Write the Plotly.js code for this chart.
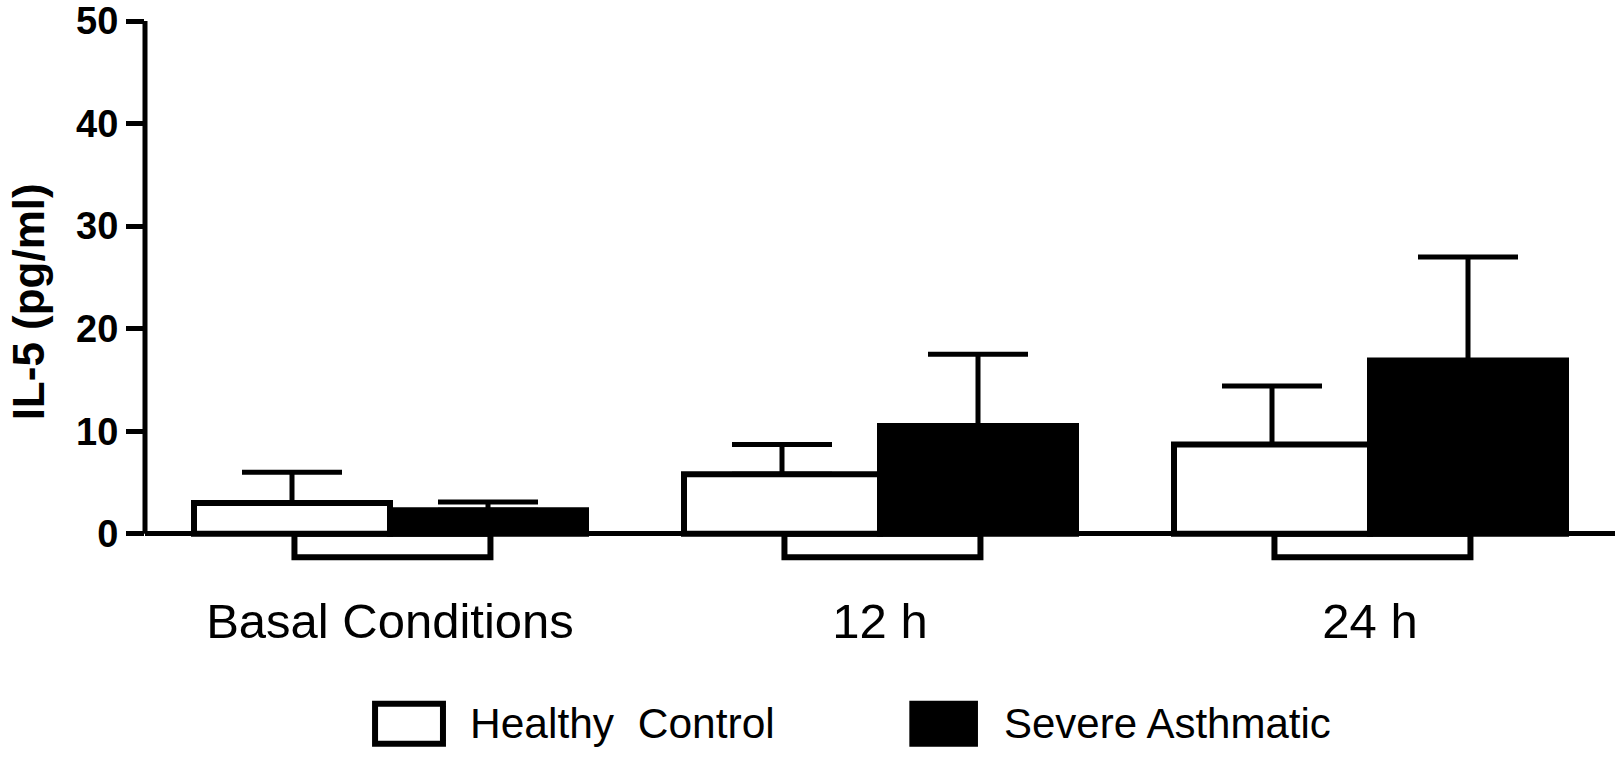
<!DOCTYPE html>
<html>
<head>
<meta charset="utf-8">
<script src="https://cdn.plot.ly/plotly-3.0.1.min.js"></script>
<style>html,body{margin:0;padding:0;background:#fff;}#chart{width:1624px;height:757px;}</style>
</head>
<body>
<div id="chart"></div>
<script>
// ---- data ----
const categories = ["Basal Conditions", "12 h", "24 h"];
const healthyMean = [3.0, 5.8, 8.7];
const healthySEM  = [3.0, 2.9, 5.7];
const asthmaMean  = [2.3, 10.5, 16.9];
const asthmaSEM   = [0.8, 7.0, 10.1];
const baselineBox = [-2.3, -2.3, -2.3];
const yTicks = [0, 10, 20, 30, 40, 50];
const seriesNames = ["Healthy  Control", "Severe Asthmatic"];

const idx = categories.map((c, i) => i);
const FONT = "Liberation Sans, Arial, Helvetica, sans-serif";

const traces = [
  {
    type: "bar", x: idx, y: baselineBox, width: 0.4, offset: -0.195,
    marker: {color: "#ffffff", line: {color: "#000", width: 6}},
    showlegend: false, hoverinfo: "skip"
  },
  {
    type: "bar", name: seriesNames[0], x: idx, y: healthyMean, width: 0.4, offset: -0.4,
    marker: {color: "#ffffff", line: {color: "#000", width: 6}},
    error_y: {type: "data", symmetric: false, array: healthySEM, arrayminus: healthySEM.map(() => 0),
              color: "#000", thickness: 5, width: 50},
    showlegend: false
  },
  {
    type: "bar", name: seriesNames[1], x: idx, y: asthmaMean, width: 0.4, offset: 0,
    marker: {color: "#000000", line: {color: "#000", width: 6}},
    error_y: {type: "data", symmetric: false, array: asthmaSEM, arrayminus: asthmaSEM.map(() => 0),
              color: "#000", thickness: 5, width: 50},
    showlegend: false
  }
];

const layout = {
  width: 1624, height: 757,
  margin: {l: 145, r: 9, t: 18, b: 172},
  paper_bgcolor: "#fff", plot_bgcolor: "#fff",
  barmode: "overlay",
  showlegend: false,
  font: {family: FONT, color: "#000"},
  xaxis: {
    range: [-0.5, 2.5], tickvals: idx, ticktext: categories,
    showgrid: false, zeroline: false, showline: false, ticks: "",
    tickfont: {family: FONT, size: 49, color: "#000"},
    ticklabelstandoff: 3
  },
  yaxis: {
    range: [-5, 50.3], tickvals: yTicks, ticktext: yTicks.map(String),
    showgrid: false, showline: false,
    zeroline: true, zerolinecolor: "#000", zerolinewidth: 5,
    ticks: "outside", ticklen: 18, tickwidth: 5, tickcolor: "#000",
    ticklabeloverflow: "allow",
    tickfont: {family: FONT, size: 38, color: "#000", weight: "bold"}
  },
  shapes: [
    {type: "line", xref: "paper", yref: "y", x0: 0, x1: 0, y0: 0, y1: 50,
     line: {color: "#000", width: 5}},
    {type: "rect", xref: "paper", yref: "paper", x0: 0.1565, x1: 0.2027, y0: -0.280, y1: -0.2095,
     fillcolor: "#fff", line: {color: "#000", width: 6}},
    {type: "rect", xref: "paper", yref: "paper", x0: 0.522, x1: 0.5646, y0: -0.280, y1: -0.2095,
     fillcolor: "#000", line: {color: "#000", width: 6}}
  ],
  annotations: [
    {text: "IL-5 (pg/ml)", xref: "paper", yref: "paper", x: -0.079, y: 0.5,
     xanchor: "center", yanchor: "middle", textangle: -90, showarrow: false,
     font: {family: FONT, size: 44, color: "#000", weight: "bold"}},
    {text: seriesNames[0], xref: "paper", yref: "paper", x: 0.2197, y: -0.2447,
     xanchor: "left", yanchor: "middle", showarrow: false,
     font: {family: FONT, size: 42.5, color: "#000"}},
    {text: seriesNames[1], xref: "paper", yref: "paper", x: 0.583, y: -0.2447,
     xanchor: "left", yanchor: "middle", showarrow: false,
     font: {family: FONT, size: 42, color: "#000"}}
  ]
};

Plotly.newPlot("chart", traces, layout, {displayModeBar: false, staticPlot: true});
</script>
</body>
</html>
